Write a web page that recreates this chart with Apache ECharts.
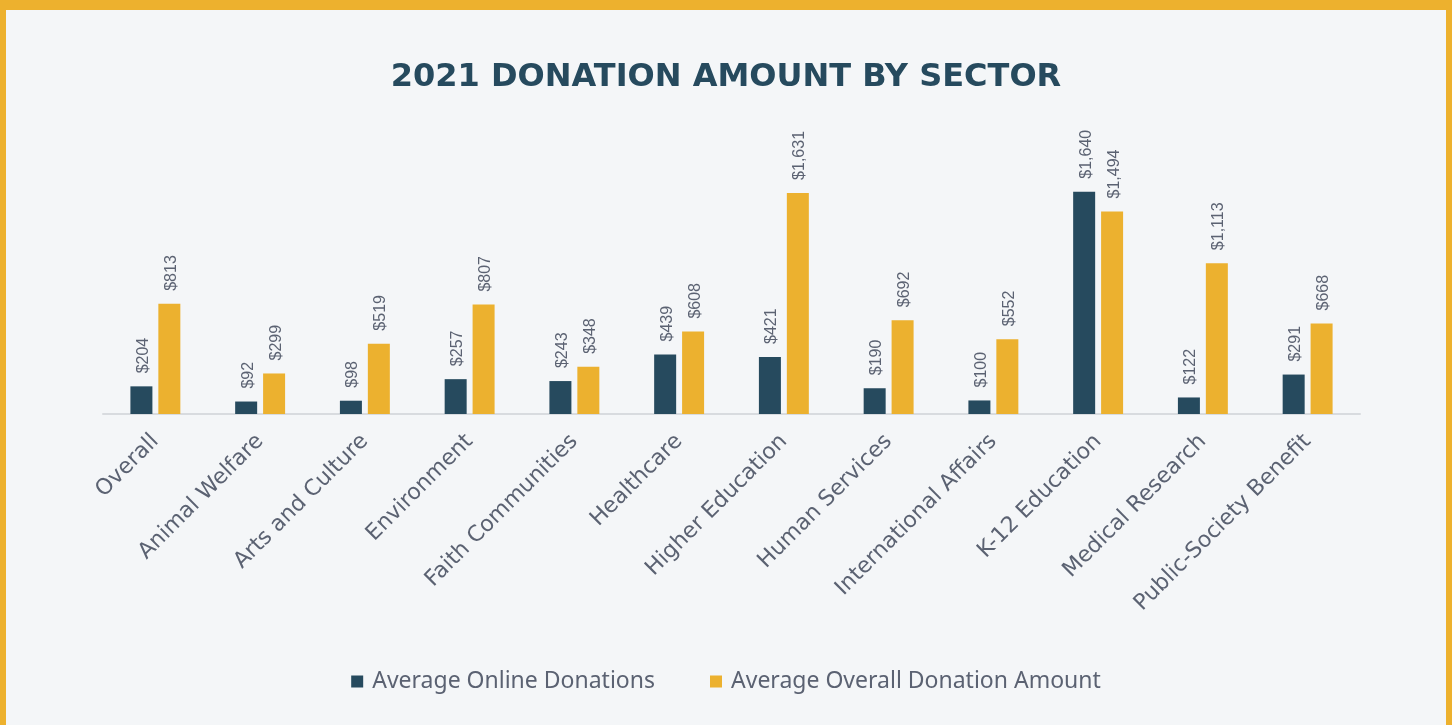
<!DOCTYPE html>
<html>
<head>
<meta charset="utf-8">
<script src="https://cdn.jsdelivr.net/npm/echarts@6/dist/echarts.min.js"></script>
<style>
  html, body { margin: 0; padding: 0; background: #edb12e; }
  #frame { position: absolute; left: 6px; top: 10px; width: 1440px; height: 715px; background: #f4f6f8; }
  #chart { position: absolute; left: -6px; top: -10px; width: 1452px; height: 725px; }
</style>
</head>
<body>
<div id="frame"><div id="chart"></div></div>
<script>
// Sectors along the x axis
const sectors = [
  'Overall', 'Animal Welfare', 'Arts and Culture', 'Environment',
  'Faith Communities', 'Healthcare', 'Higher Education', 'Human Services',
  'International Affairs', 'K-12 Education', 'Medical Research', 'Public-Society Benefit'
];
// Average online gift per sector (USD)
const onlineDonations = [204, 92, 98, 257, 243, 439, 421, 190, 100, 1640, 122, 291];
// Average overall gift per sector (USD)
const overallDonations = [813, 299, 519, 807, 348, 608, 1631, 692, 552, 1494, 1113, 668];

const seriesNames = ['Average Online Donations', 'Average Overall Donation Amount'];

const NAVY = '#264a5e';
const GOLD = '#ecb12f';
const GREY_TEXT = '#5b6272';

const fmt = v => '$' + v.toLocaleString('en-US');

// Vertical value labels sitting above each bar
const valueLabel = {
  show: true,
  position: 'top',
  rotate: 90,
  distance: 13,
  offset: [0, 2],
  align: 'left',
  verticalAlign: 'middle',
  fontFamily: 'Liberation Sans',
  fontSize: 16,
  color: GREY_TEXT,
  formatter: p => fmt(p.value)
};

const chart = echarts.init(document.getElementById('chart'), null, { renderer: 'canvas' });
chart.setOption({
  backgroundColor: 'transparent',
  title: {
    text: '2021 DONATION AMOUNT BY SECTOR',
    left: 'center',
    top: 57,
    textStyle: {
      fontFamily: 'DejaVu Sans',
      fontWeight: 'bold',
      fontSize: 32,
      color: NAVY
    }
  },
  legend: {
    bottom: 27,
    left: 'center',
    itemWidth: 12,
    itemHeight: 12,
    itemGap: 55,
    icon: 'rect',
    textStyle: { fontFamily: 'Noto Sans', fontSize: 23, color: GREY_TEXT, padding: [0, 0, 0, 4] },
    data: seriesNames
  },
  grid: { left: 103, right: 92, top: 170, bottom: 311, containLabel: false },
  xAxis: {
    type: 'category',
    data: sectors,
    axisLine: { lineStyle: { color: '#d8dbdf', width: 2 } },
    axisTick: { show: false },
    axisLabel: {
      interval: 0,
      rotate: 45,
      margin: 24,
      fontFamily: 'DejaVu Sans',
      fontSize: 22,
      color: GREY_TEXT
    }
  },
  yAxis: {
    type: 'value',
    min: 0,
    max: 1800,
    show: false
  },
  series: [
    {
      name: seriesNames[0],
      type: 'bar',
      data: onlineDonations,
      itemStyle: { color: NAVY },
      barWidth: 22,
      barGap: '27%',
      label: valueLabel
    },
    {
      name: seriesNames[1],
      type: 'bar',
      data: overallDonations,
      itemStyle: { color: GOLD },
      barWidth: 22,
      label: valueLabel
    }
  ]
});
</script>
</body>
</html>
